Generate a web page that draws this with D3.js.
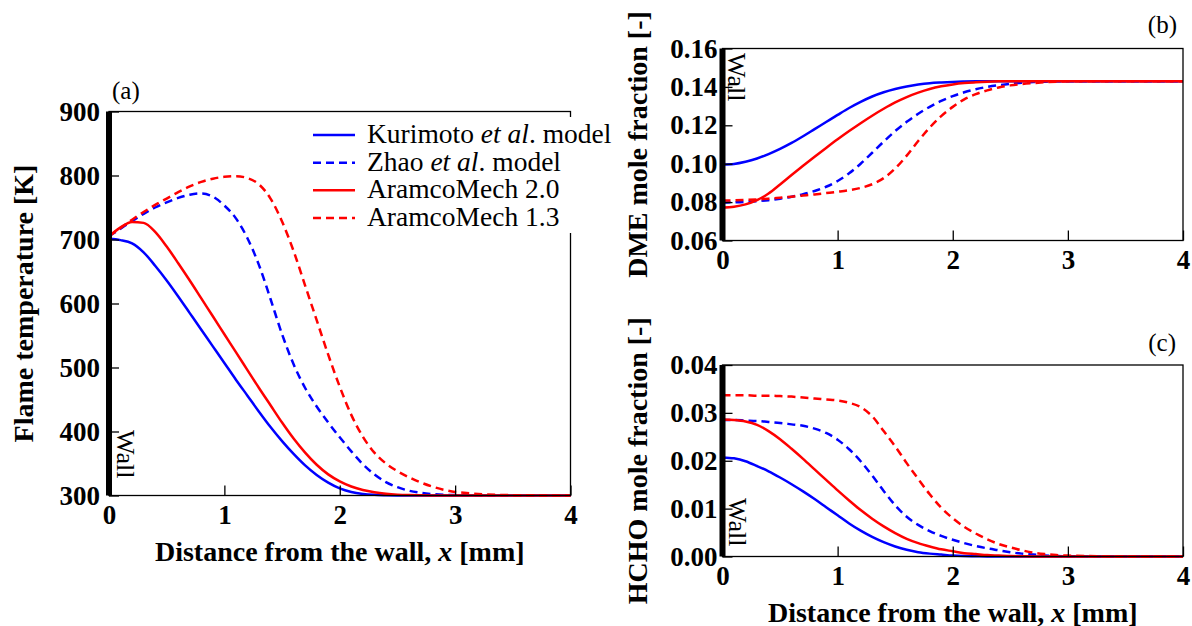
<!DOCTYPE html>
<html>
<head>
<meta charset="utf-8">
<script src="https://cdn.jsdelivr.net/npm/d3@7"></script>
<style>
  body { margin: 0; background: #fff; }
  svg { display: block; }
</style>
</head>
<body>
<svg id="fig" width="1192" height="626"></svg>
<script>
// Distance from the wall [mm], shared by every profile
const distance = [0,0.1,0.2,0.3,0.4,0.5,0.6,0.7,0.8,0.9,1.0,1.1,1.2,1.3,1.4,1.5,1.6,1.7,1.8,1.9,2.0,2.1,2.2,2.3,2.4,2.5,2.6,2.7,2.8,2.9,3.0,3.5,4.0];

// (a) Flame temperature [K]
const tempKurimoto = [701,699,694,680,659,636,611,585,559,533,507,481,456,431,407,385,365,347,332,320,311,305.5,302.5,301,300.4,300.1,300,300,300,300,300,300,300];
const tempZhao     = [705,717,729,740,750,758,765,770,772,767,753,733,702,660,607,552,505,468,439,414,391,369,349,333,321,313,307.5,304.2,302.3,301.2,300.6,300,300];
const tempAramco20 = [705,719,727.5,726,712,689,663,636,608,580,552,524,496,468,441,414,389,367,348,333,322,314,308.5,305,302.7,301.3,300.6,300.3,300.1,300,300,300,300];
const tempAramco13 = [705,718,731,743,754,764,774,783,790,795,798,799,796,786,764,728,682,628,574,520,470,426,392,367,350,338,328.5,320.5,314,309,305.5,300.5,300];

// (b) DME mole fraction [-]
const dmeKurimoto = [0.0996,0.0999,0.1010,0.1027,0.1050,0.1077,0.1108,0.1143,0.1180,0.1217,0.1254,0.1290,0.1322,0.1350,0.1372,0.1389,0.1402,0.1412,0.1419,0.1423,0.1426,0.1428,0.1429,0.1430,0.1430,0.1430,0.1430,0.1430,0.1430,0.1430,0.1430,0.1430,0.1430];
const dmeZhao     = [0.0798,0.0799,0.0801,0.0805,0.0810,0.0818,0.0828,0.0841,0.0858,0.0880,0.0910,0.0950,0.1000,0.1057,0.1115,0.1170,0.1218,0.1260,0.1296,0.1327,0.1352,0.1372,0.1388,0.1400,0.1409,0.1416,0.1421,0.1425,0.1427,0.1429,0.1430,0.1430,0.1430];
const dmeAramco20 = [0.0772,0.0776,0.0788,0.0810,0.0845,0.0892,0.0941,0.0989,0.1036,0.1082,0.1127,0.1170,0.1211,0.1250,0.1286,0.1319,0.1347,0.1370,0.1389,0.1403,0.1413,0.1420,0.1424,0.1427,0.1429,0.1430,0.1430,0.1430,0.1430,0.1430,0.1430,0.1430,0.1430];
const dmeAramco13 = [0.0808,0.0809,0.0811,0.0814,0.0818,0.0823,0.0828,0.0834,0.0840,0.0847,0.0854,0.0862,0.0874,0.0893,0.0925,0.0975,0.1042,0.1118,0.1188,0.1248,0.1296,0.1335,0.1362,0.1382,0.1397,0.1408,0.1415,0.1420,0.1424,0.1427,0.1429,0.1430,0.1430];

// (c) HCHO mole fraction [-]
const hchoKurimoto = [0.0207,0.0205,0.0199,0.0189,0.0178,0.0165,0.0151,0.0136,0.0120,0.0103,0.0086,0.0069,0.0054,0.0041,0.0030,0.0021,0.0014,0.0009,0.0006,0.0004,0.0002,0.0001,0.00005,0,0,0,0,0,0,0,0,0,0];
const hchoZhao     = [0.0285,0.0285,0.0284,0.0283,0.0281,0.0279,0.0276,0.0273,0.0267,0.0258,0.0244,0.0224,0.0199,0.0169,0.0137,0.0107,0.0083,0.0066,0.0053,0.0043,0.0035,0.0028,0.0022,0.0017,0.0013,0.0009,0.0006,0.0004,0.0002,0.0001,0.00005,0,0];
const hchoAramco20 = [0.0286,0.0285,0.0282,0.0275,0.0262,0.0245,0.0225,0.0204,0.0182,0.0160,0.0138,0.0117,0.0097,0.0079,0.0063,0.0049,0.0037,0.0028,0.0021,0.0015,0.0011,0.0007,0.0005,0.0003,0.0002,0.0001,0.00005,0,0,0,0,0,0];
const hchoAramco13 = [0.0337,0.0337,0.0337,0.0336,0.0336,0.0335,0.0334,0.0332,0.0330,0.0328,0.0326,0.0321,0.0312,0.0293,0.0262,0.0230,0.0195,0.0162,0.0130,0.0102,0.0080,0.0062,0.0048,0.0036,0.0026,0.0019,0.0013,0.0008,0.0005,0.0003,0.0002,0,0];

// Axis ticks
const xTicks = [0, 1, 2, 3, 4];
const tempTicks = [300, 400, 500, 600, 700, 800, 900];
const dmeTicks = [0.06, 0.08, 0.10, 0.12, 0.14, 0.16];
const hchoTicks = [0.00, 0.01, 0.02, 0.03, 0.04];

// Models, in legend order; each label is a list of [text, italic] pieces
const models = ["kurimoto", "zhao", "aramco20", "aramco13"];
const modelLabels = [
  [["Kurimoto ", false], ["et al", true], [". model", false]],
  [["Zhao ", false], ["et al", true], [". model", false]],
  [["AramcoMech 2.0", false]],
  [["AramcoMech 1.3", false]]
];

const lineStyle = {
  kurimoto: { color: "#0000ff", dash: null },
  zhao:     { color: "#0000ff", dash: "8,5" },
  aramco20: { color: "#ff0000", dash: null },
  aramco13: { color: "#ff0000", dash: "8,5" }
};

const SERIF = "'Liberation Serif', 'Times New Roman', Times, serif";
const svg = d3.select("#fig");

const panels = [
  {
    tag: "(a)", tagX: 112, tagY: 99, tagAnchor: "start",
    left: 109, right: 570.5, top: 111.5, bottom: 495.5,
    domain: [300, 900], ticks: tempTicks, fmt: d3.format("d"), yPad: 9,
    series: { kurimoto: tempKurimoto, zhao: tempZhao, aramco20: tempAramco20, aramco13: tempAramco13 },
    yTitle: "Flame temperature [K]", xTitle: true,
    wallY: 430, wallDx: 8
  },
  {
    tag: "(b)", tagX: 1177, tagY: 33, tagAnchor: "end",
    left: 722.5, right: 1183, top: 48.5, bottom: 240.5,
    domain: [0.06, 0.16], ticks: dmeTicks, fmt: d3.format(".2f"), yPad: 5,
    series: { kurimoto: dmeKurimoto, zhao: dmeZhao, aramco20: dmeAramco20, aramco13: dmeAramco13 },
    yTitle: "DME mole fraction [-]", xTitle: false,
    wallY: 53, wallDx: 5
  },
  {
    tag: "(c)", tagX: 1176, tagY: 351, tagAnchor: "end",
    left: 722.5, right: 1183, top: 365, bottom: 556.5,
    domain: [0, 0.04], ticks: hchoTicks, fmt: d3.format(".2f"), yPad: 5,
    series: { kurimoto: hchoKurimoto, zhao: hchoZhao, aramco20: hchoAramco20, aramco13: hchoAramco13 },
    yTitle: "HCHO mole fraction [-]", xTitle: true,
    wallY: 498, wallDx: 6
  }
];

panels.forEach(p => {
  const g = svg.append("g");
  const x = d3.scaleLinear().domain([0, 4]).range([p.left, p.right]);
  const y = d3.scaleLinear().domain(p.domain).range([p.bottom, p.top]);

  // profiles
  const line = d3.line()
    .x((d, i) => x(distance[i]))
    .y(d => y(d))
    .curve(d3.curveMonotoneX);

  models.forEach(m => {
    const st = lineStyle[m];
    g.append("path")
      .datum(p.series[m])
      .attr("d", line)
      .attr("fill", "none")
      .attr("stroke", st.color)
      .attr("stroke-width", 2.5)
      .attr("stroke-dasharray", st.dash);
  });

  // frame
  g.append("rect")
    .attr("x", p.left).attr("y", p.top)
    .attr("width", p.right - p.left).attr("height", p.bottom - p.top)
    .attr("fill", "none").attr("stroke", "#000").attr("stroke-width", 1.3);

  // x axis with inward ticks
  const xAxis = g.append("g")
    .attr("transform", `translate(0,${p.bottom})`)
    .call(d3.axisBottom(x).tickValues(xTicks).tickFormat(d3.format("d"))
      .tickSize(-10).tickSizeOuter(0).tickPadding(9));
  xAxis.select(".domain").remove();

  // y axis with inward ticks
  const yAxis = g.append("g")
    .attr("transform", `translate(${p.left},0)`)
    .call(d3.axisLeft(y).tickValues(p.ticks).tickFormat(p.fmt)
      .tickSize(-10).tickSizeOuter(0).tickPadding(p.yPad));
  yAxis.select(".domain").remove();

  [xAxis, yAxis].forEach(a => {
    a.selectAll(".tick line").attr("stroke", "#000").attr("stroke-width", 1.3);
    a.selectAll(".tick text")
      .attr("fill", "#000")
      .style("font-family", SERIF)
      .style("font-weight", "bold")
      .style("font-size", "27px");
  });

  // the wall
  g.append("rect")
    .attr("x", p.left - 3).attr("y", p.top)
    .attr("width", 6).attr("height", p.bottom - p.top)
    .attr("fill", "#000");

  g.append("text")
    .attr("transform", `translate(${p.left + p.wallDx},${p.wallY}) rotate(90)`)
    .style("font-family", SERIF)
    .style("font-size", "26px")
    .text("Wall");

  // y title
  g.append("text")
    .attr("transform", `translate(${p.left - 76},${(p.top + p.bottom) / 2}) rotate(-90)`)
    .attr("text-anchor", "middle")
    .style("font-family", SERIF)
    .style("font-weight", "bold")
    .style("font-size", "28px")
    .text(p.yTitle);

  // x title
  if (p.xTitle) {
    const t = g.append("text")
      .attr("x", (p.left + p.right) / 2)
      .attr("y", p.bottom + 65)
      .attr("text-anchor", "middle")
      .style("font-family", SERIF)
      .style("font-weight", "bold")
      .style("font-size", "28px");
    t.append("tspan").text("Distance from the wall, ");
    t.append("tspan").style("font-style", "italic").text("x");
    t.append("tspan").text(" [mm]");
  }

  // panel tag
  g.append("text")
    .attr("x", p.tagX).attr("y", p.tagY)
    .attr("text-anchor", p.tagAnchor)
    .style("font-family", SERIF)
    .style("font-size", "25px")
    .text(p.tag);
});

// legend inside panel (a)
const legend = svg.append("g");
legend.append("rect")
  .attr("x", 302).attr("y", 117).attr("width", 318).attr("height", 116)
  .attr("fill", "#fff");

const rowY = d3.scaleLinear().domain([0, 3]).range([135, 218]);
models.forEach((m, i) => {
  const st = lineStyle[m];
  legend.append("line")
    .attr("x1", 313).attr("x2", 355)
    .attr("y1", rowY(i)).attr("y2", rowY(i))
    .attr("stroke", st.color).attr("stroke-width", 2.5)
    .attr("stroke-dasharray", st.dash);
  const t = legend.append("text")
    .attr("x", 367).attr("y", rowY(i) + 8)
    .style("font-family", SERIF)
    .style("font-size", "27.5px");
  modelLabels[i].forEach(([s, it]) => {
    t.append("tspan").style("font-style", it ? "italic" : "normal").text(s);
  });
});
</script>
</body>
</html>
